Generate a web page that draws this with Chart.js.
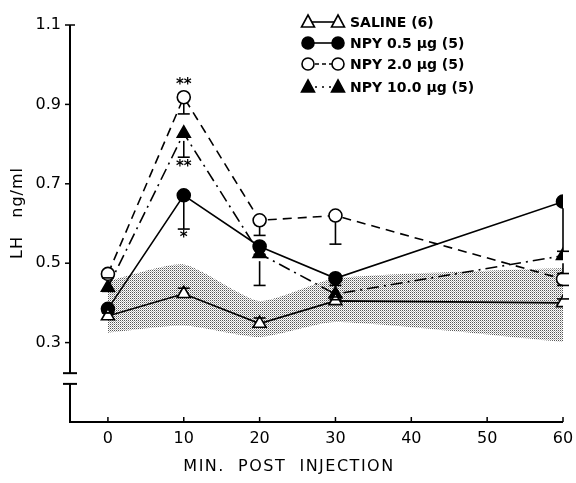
<!DOCTYPE html>
<html><head><meta charset="utf-8">
<script src="https://cdn.jsdelivr.net/npm/chart.js@4"></script>
<style>html,body{margin:0;padding:0;background:#fff}#wrap{width:576px;height:483px;position:relative}</style>
</head><body><div id="wrap"><canvas id="c" width="576" height="483"></canvas></div>
<script>
// ---- data ----
const minutes = [0, 10, 20, 30, 60];
const xTicks = [0, 10, 20, 30, 40, 50, 60];
const yTicks = [0.3, 0.5, 0.7, 0.9, 1.1];
const seriesLabels = ['SALINE (6)', 'NPY 0.5 \u03bcg (5)', 'NPY 2.0 \u03bcg (5)', 'NPY 10.0 \u03bcg (5)'];
const xTitle = 'MIN.  POST  INJECTION';
const yTitle = 'LH   ng/ml';
const saline = [0.367, 0.423, 0.348, 0.405, 0.400];
const npy05  = [0.385, 0.671, 0.542, 0.462, 0.655];
const npy20  = [0.473, 0.918, 0.608, 0.620, 0.460];
const npy10  = [0.439, 0.827, 0.524, 0.422, 0.519];
const semSaline = [0.008, 0.014, 0.014, 0.010, 0.010];
const semNpy05  = [0.010, 0.085, 0.020, 0.018, 0.125];
const semNpy20  = [0.010, 0.042, 0.038, 0.072, 0.016];
const semNpy10  = [0.010, 0.060, 0.080, 0.014, 0.045];
const sigNpy05 = ['', '*', '', '', ''];
const sigNpy20 = ['', '**', '', '', ''];
const sigNpy10 = ['', '**', '', '', ''];
const bandUpper = [0.455, 0.497, 0.405, 0.462, 0.488];
const bandLower = [0.325, 0.343, 0.314, 0.352, 0.302];
const axisBreak = [0.196, 0.223];

const pts = (arr) => minutes.map((m, i) => ({x: m, y: arr[i]}));

const canvas = document.getElementById('c');
const mainCtx = canvas.getContext('2d');
function stipple() {
  const c = document.createElement('canvas'); c.width = 2; c.height = 2;
  const g = c.getContext('2d');
  g.fillStyle = 'rgba(20,20,20,0.72)'; g.fillRect(0, 0, 1, 1);
  g.fillStyle = 'rgba(20,20,20,0.32)'; g.fillRect(1, 1, 1, 1);
  return mainCtx.createPattern(c, 'repeat');
}

const FONT = '"DejaVu Sans", sans-serif';
const specs = [
  {label: seriesLabels[0], data: saline, sem: semSaline, dir: 1, sig: null, style: 'triangle', filled: false, dash: [], legendDash: [], r: 7.5},
  {label: seriesLabels[1], data: npy05, sem: semNpy05, dir: -1, sig: sigNpy05, style: 'circle', filled: true, dash: [], legendDash: [], r: 6.5},
  {label: seriesLabels[2], data: npy20, sem: semNpy20, dir: -1, sig: sigNpy20, style: 'circle', filled: false, dash: [9, 6], legendDash: [4, 3], r: 6.5, sigAbove: true},
  {label: seriesLabels[3], data: npy10, sem: semNpy10, dir: -1, sig: sigNpy10, style: 'triangle', filled: true, dash: [12, 5, 2, 5], legendDash: [2, 5], r: 7.5}
];

const datasets = specs.map((s, k) => ({
  label: s.label,
  data: pts(s.data),
  borderColor: '#000',
  borderWidth: 1.6,
  borderDash: s.dash,
  backgroundColor: s.filled ? '#000' : '#fff',
  pointStyle: s.style,
  pointRadius: s.r,
  pointBorderWidth: 1.6,
  pointBorderColor: '#000',
  pointBackgroundColor: s.filled ? '#000' : '#fff',
  tension: 0,
  fill: false,
  order: k
}));
datasets.push({label: 'band-low', data: pts(bandLower), borderWidth: 0, pointRadius: 0, fill: false, tension: 0.2, order: 20, borderColor: 'rgba(0,0,0,0)'});
datasets.push({label: 'band-high', data: pts(bandUpper), borderWidth: 0, pointRadius: 0, fill: '-1', tension: 0.2, order: 21, borderColor: 'rgba(0,0,0,0)', backgroundColor: stipple()});

function line(ctx, x1, y1, x2, y2) { ctx.beginPath(); ctx.moveTo(x1, y1); ctx.lineTo(x2, y2); ctx.stroke(); }

const decor = {
  id: 'decor',
  afterDatasetsDraw(chart) {
    const ctx = chart.ctx, xs = chart.scales.x, ys = chart.scales.y;
    ctx.save();
    ctx.strokeStyle = '#000'; ctx.fillStyle = '#000'; ctx.lineWidth = 1.6; ctx.setLineDash([]);
    specs.forEach(s => {
      minutes.forEach((m, i) => {
        const e = s.sem[i];
        const px = xs.getPixelForValue(m);
        const y0 = ys.getPixelForValue(s.data[i]);
        let yc = y0;
        if (e) {
          yc = ys.getPixelForValue(s.data[i] + s.dir * e);
          const start = y0 - s.dir * s.r;
          if ((s.dir < 0 && yc > start) || (s.dir > 0 && yc < start)) line(ctx, px, start, px, yc);
          line(ctx, px - 6, yc, px + 6, yc);
        }
        if (s.sig && s.sig[i]) {
          ctx.font = 'bold 15px ' + FONT; ctx.textAlign = 'center'; ctx.textBaseline = 'top';
          if (s.sigAbove) ctx.fillText(s.sig[i], px, y0 - s.r - 13);
          else ctx.fillText(s.sig[i], px, yc + 2);
        }
      });
    });
    ctx.restore();
  },
  afterDraw(chart) {
    const ctx = chart.ctx, xs = chart.scales.x, ys = chart.scales.y;
    const a = chart.chartArea;
    ctx.save();
    ctx.strokeStyle = '#000'; ctx.lineWidth = 2; ctx.setLineDash([]);
    const yTop = ys.getPixelForValue(yTicks[yTicks.length - 1]);
    const bTop = ys.getPixelForValue(axisBreak[1]), bBot = ys.getPixelForValue(axisBreak[0]);
    line(ctx, a.left, yTop, a.left, bTop);
    line(ctx, a.left, bBot, a.left, a.bottom);
    line(ctx, a.left - 7, bTop, a.left + 7, bTop);
    line(ctx, a.left - 7, bBot, a.left + 7, bBot);
    line(ctx, a.left - 1, a.bottom, a.right, a.bottom);
    ctx.lineWidth = 1.5;
    xTicks.forEach(v => { const p = xs.getPixelForValue(v); line(ctx, p, a.bottom, p, a.bottom - 5); });
    yTicks.forEach(v => { const p = ys.getPixelForValue(v); line(ctx, a.left - 5, p, a.left, p); });
    line(ctx, a.left, yTop, a.left + 5, yTop);
    // titles
    ctx.fillStyle = '#000';
    ctx.font = '16px ' + FONT; ctx.textAlign = 'center'; ctx.textBaseline = 'middle';
    ctx.letterSpacing = '1.5px';
    ctx.fillText(xTitle, 289, 467);
    ctx.save(); ctx.translate(18, 213); ctx.rotate(-Math.PI / 2);
    ctx.letterSpacing = '1px';
    ctx.fillText(yTitle, 0, 0); ctx.restore();
    ctx.letterSpacing = '0px';
    // legend
    const rows = [22, 43, 64, 87];
    specs.forEach((s, k) => {
      const y = rows[k];
      ctx.lineWidth = 1.6; ctx.setLineDash(s.legendDash);
      line(ctx, 308, y, 338, y);
      ctx.setLineDash([]);
      [308, 338].forEach(x => {
        ctx.beginPath();
        if (s.style === 'circle') ctx.arc(x, y, 6, 0, Math.PI * 2);
        else { ctx.moveTo(x, y - 7); ctx.lineTo(x + 6.5, y + 5); ctx.lineTo(x - 6.5, y + 5); ctx.closePath(); }
        ctx.fillStyle = s.filled ? '#000' : '#fff'; ctx.fill(); ctx.stroke();
      });
      ctx.fillStyle = '#000'; ctx.font = 'bold 14px ' + FONT; ctx.textAlign = 'left'; ctx.textBaseline = 'middle';
      ctx.fillText(s.label, 350, y + 1);
    });
    ctx.restore();
  }
};

new Chart(canvas, {
  type: 'line',
  data: {datasets},
  plugins: [decor],
  options: {
    responsive: false,
    animation: false,
    layout: {padding: {left: 0, right: 13, top: 25, bottom: 0}},
    plugins: {legend: {display: false}, tooltip: {enabled: false}},
    scales: {
      x: {
        type: 'linear', min: -5, max: 60,
        grid: {display: false, drawTicks: false}, border: {display: false},
        afterBuildTicks: s => { s.ticks = xTicks.map(v => ({value: v})); },
        afterFit: s => { s.height = 61; s.paddingLeft = 0; s.paddingRight = 0; },
        ticks: {color: '#000', font: {family: FONT, size: 16}, padding: 7, maxRotation: 0, autoSkip: false}
      },
      y: {
        type: 'linear', min: 0.1, max: 1.1,
        grid: {display: false, drawTicks: false}, border: {display: false},
        afterBuildTicks: s => { s.ticks = yTicks.map(v => ({value: v})); },
        afterFit: s => { s.width = 70; s.paddingTop = 0; s.paddingBottom = 0; },
        ticks: {color: '#000', font: {family: FONT, size: 16}, padding: 9, callback: v => v.toFixed(1), autoSkip: false}
      }
    }
  }
});
</script></body></html>
